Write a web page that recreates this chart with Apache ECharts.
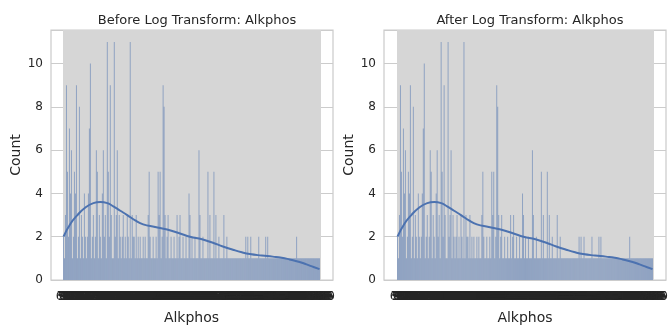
<!DOCTYPE html>
<html>
<head>
<meta charset="utf-8">
<script src="https://cdn.jsdelivr.net/npm/echarts@6/dist/echarts.min.js"></script>
<style>
  html, body { margin: 0; padding: 0; background: #fff; }
  #chart { width: 672px; height: 325px; }
</style>
</head>
<body>
<div id="chart"></div>
<script>
// Alkphos categories (unique values, in axis order)
const categories = [
  63, 75, 90, 92, 95, 97, 98, 99, 100, 101, 102, 105, 108, 110, 112, 114, 115, 116, 117, 118,
  119, 120, 121, 122, 123, 124, 125, 126, 127, 128, 129, 130, 131, 132, 133, 134, 135, 136, 137, 138,
  139, 140, 141, 142, 143, 144, 145, 146, 147, 148, 149, 150, 151, 152, 153, 154, 155, 156, 157, 158,
  159, 160, 161, 162, 163, 164, 165, 166, 167, 168, 169, 170, 171, 172, 173, 174, 175, 176, 177, 178,
  179, 180, 181, 182, 183, 184, 185, 186, 187, 188, 189, 190, 191, 192, 193, 194, 195, 196, 197, 198,
  199, 200, 201, 202, 203, 204, 205, 206, 207, 208, 209, 210, 211, 212, 213, 214, 215, 216, 217, 218,
  219, 220, 221, 222, 223, 224, 225, 226, 227, 228, 229, 230, 231, 232, 233, 234, 235, 236, 237, 238,
  239, 240, 241, 242, 243, 245, 246, 248, 250, 252, 254, 256, 258, 260, 262, 265, 268, 270, 272, 275,
  278, 280, 282, 285, 288, 290, 292, 295, 298, 300, 305, 310, 312, 315, 320, 325, 330, 335, 340, 345,
  350, 356, 360, 365, 370, 375, 380, 385, 390, 395, 400, 410, 415, 420, 430, 440, 450, 460, 470, 480,
  490, 500, 510, 520, 530, 540, 550, 560, 570, 580, 590, 600, 610, 620, 630, 640, 650, 660, 680, 690,
  700, 710, 720, 730, 750, 760, 780, 800, 820, 840, 850, 870, 890, 900, 920, 950, 960, 990, 1000, 1020,
  1050, 1100, 1124, 1150, 1200, 1250, 1300, 1350, 1420, 1480, 1550, 1580, 1620, 1630, 1750, 1860, 1896, 2110
].map(String);

// count per category
const counts = [
  2, 1, 3, 9, 5, 2, 7, 4, 6, 1,
  2, 5, 4, 9, 1, 2, 8, 1, 3, 2,
  1, 4, 2, 1, 2, 4, 7, 10, 1, 2,
  3, 1, 2, 6, 5, 1, 3, 2, 1, 4,
  6, 2, 3, 1, 11, 5, 2, 9, 3, 1,
  1, 11, 2, 3, 6, 1, 3, 2, 1, 2,
  3, 1, 2, 1, 3, 2, 1, 11, 1, 3,
  2, 2, 1, 3, 1, 2, 1, 2, 1, 1,
  2, 1, 2, 1, 1, 3, 5, 2, 1, 1,
  2, 1, 1, 2, 1, 5, 3, 5, 1, 2,
  9, 8, 3, 1, 2, 3, 1, 1, 2, 1,
  1, 2, 1, 1, 3, 1, 2, 3, 1, 1,
  2, 1, 1, 2, 1, 1, 4, 3, 1, 2,
  1, 1, 2, 1, 1, 1, 6, 3, 1, 1,
  2, 1, 1, 1, 1, 5, 1, 3, 1, 1,
  1, 5, 1, 3, 1, 1, 2, 1, 1, 1,
  1, 3, 1, 1, 2, 1, 1, 1, 1, 1,
  1, 1, 1, 1, 1, 1, 1, 1, 1, 1,
  1, 1, 1, 2, 1, 2, 1, 1, 2, 1,
  1, 1, 1, 1, 1, 1, 2, 1, 1, 1,
  1, 1, 1, 2, 1, 2, 1, 1, 1, 1,
  1, 1, 1, 1, 1, 1, 1, 1, 1, 1,
  1, 1, 1, 1, 1, 1, 1, 1, 1, 1,
  1, 1, 1, 1, 2, 1, 1, 1, 1, 1,
  1, 1, 1, 1, 1, 1, 1, 1, 1, 1,
  1, 1, 1, 1, 1, 1, 1, 1
];

// kde curve, x in category-index units
const kdeX = [0, 7, 14, 22, 30, 37, 44, 50, 57, 64, 72, 80, 92, 104, 117, 127, 139, 150, 160, 170, 179, 187, 199, 210, 219, 227, 237, 244, 251, 257];
const kdeY = [2.0, 2.6, 3.0, 3.35, 3.55, 3.6, 3.55, 3.4, 3.2, 3.0, 2.75, 2.57, 2.45, 2.33, 2.15, 2.0, 1.88, 1.72, 1.55, 1.4, 1.28, 1.2, 1.13, 1.08, 1.03, 0.95, 0.83, 0.72, 0.6, 0.5];

const yTicks = [0, 2, 4, 6, 8, 10];
const titles = ['Before Log Transform: Alkphos', 'After Log Transform: Alkphos'];

const textColor = '#262626';
const gridColor = '#cccccc';
const font = 'DejaVu Sans';
const yMax = 11.55;

// frame (outer) and data area (inner) for each panel
const panels = [
  { frame: [51, 333], inner: [63, 320] },
  { frame: [384, 666], inner: [397, 653] }
];

const chart = echarts.init(document.getElementById('chart'));
const option = {
  animation: false,
  title: [],
  grid: [],
  xAxis: [],
  yAxis: [],
  series: []
};

panels.forEach((p, k) => {
  const kde = kdeX.map((x, i) => [x + 0.5, kdeY[i]]);
  option.title.push({
    text: titles[k],
    left: (p.frame[0] + p.frame[1]) / 2,
    top: 9,
    textAlign: 'center',
    textStyle: { fontFamily: font, fontSize: 13, fontWeight: 'normal', color: textColor }
  });
  // outer grid: frame + horizontal grid
  option.grid.push({
    left: p.frame[0], width: p.frame[1] - p.frame[0], top: 30, bottom: 45,
    outerBoundsMode: 'none',
    show: true, borderColor: gridColor, borderWidth: 1.25, backgroundColor: '#fff'
  });
  // inner grid: bars
  option.grid.push({
    left: p.inner[0], width: p.inner[1] - p.inner[0], top: 30, bottom: 45,
    outerBoundsMode: 'none'
  });
  const g0 = k * 2, g1 = k * 2 + 1;
  const xb = option.xAxis.length;
  option.xAxis.push(
    { type: 'value', gridIndex: g0, min: 0, max: 1, show: false },
    {
      type: 'category', gridIndex: g1, data: categories,
      name: 'Alkphos', nameLocation: 'middle', nameGap: 31,
      nameTextStyle: { fontFamily: font, fontSize: 14, color: textColor },
      axisLine: { show: false }, axisTick: { show: false },
      axisLabel: { interval: 0, fontFamily: font, fontSize: 12, color: textColor, margin: 11 },
      splitLine: { show: true, interval: 0, lineStyle: { color: '#d6d6d6', width: 1 } }
    },
    { type: 'value', gridIndex: g1, min: 0, max: categories.length, show: false }
  );
  const yb = option.yAxis.length;
  option.yAxis.push(
    {
      type: 'value', gridIndex: g0, min: 0, max: yMax, interval: 2,
      name: 'Count', nameLocation: 'middle', nameGap: 27,
      nameTextStyle: { fontFamily: font, fontSize: 14, color: textColor },
      axisLine: { show: false }, axisTick: { show: false },
      axisLabel: {
        fontFamily: font, fontSize: 12, color: textColor, margin: 8,
        formatter: v => (yTicks.includes(v) ? String(v) : '')
      },
      splitLine: { show: true, lineStyle: { color: gridColor, width: 1 } }
    },
    { type: 'value', gridIndex: g1, min: 0, max: yMax, show: false }
  );
  option.series.push(
    {
      type: 'bar', xAxisIndex: xb + 1, yAxisIndex: yb + 1,
      data: counts, barCategoryGap: '0%',
      itemStyle: { color: 'rgba(76,114,176,0.5)' }
    },
    {
      type: 'line', xAxisIndex: xb + 2, yAxisIndex: yb + 1,
      data: kde, smooth: 0.5, symbol: 'none',
      lineStyle: { color: '#4c72b0', width: 2 }
    }
  );
});

chart.setOption(option);
</script>
</body>
</html>
